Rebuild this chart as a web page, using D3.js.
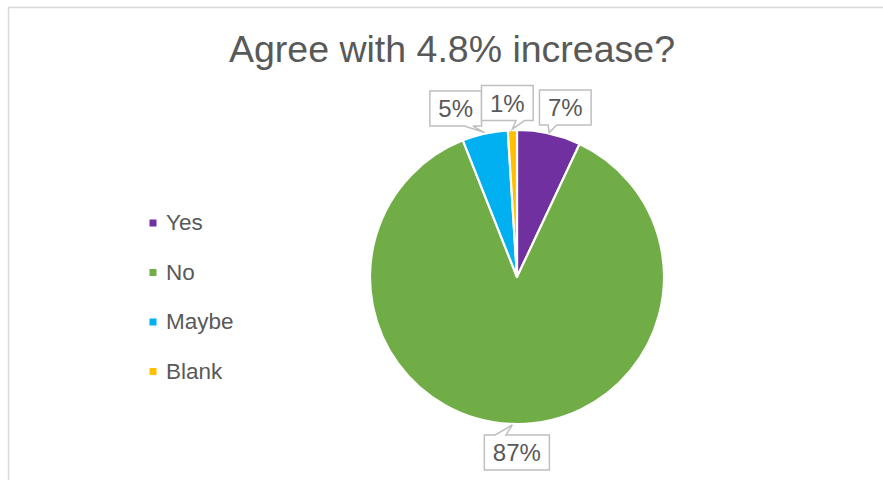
<!DOCTYPE html>
<html>
<head>
<meta charset="utf-8">
<script src="https://cdn.jsdelivr.net/npm/d3@7"></script>
<style>
  html, body { margin: 0; padding: 0; background: #fff; }
  svg { display: block; font-family: "Liberation Sans", Arial, sans-serif; }
</style>
</head>
<body>
<svg id="chart" width="883" height="480"></svg>
<script>
// Survey responses
const categories = ["Yes", "No", "Maybe", "Blank"];
const values = [7, 87, 5, 1];
const colors = ["#7030A0", "#70AD47", "#00B0F0", "#FFC000"];
const title = "Agree with 4.8% increase?";

// Callout box offsets (box centre relative to the slice's outer edge point)
const calloutOffsets = [[16, -25], [4.5, 27.5], [-29, -24], [-5, -26]];

const svg = d3.select("#chart");
const W = 883, H = 480;

// Chart area frame
svg.append("rect")
  .attr("x", 8.5).attr("y", 7.5)
  .attr("width", W + 20).attr("height", H + 20)
  .attr("fill", "#fff").attr("stroke", "#d9d9d9").attr("stroke-width", 1.5);

// Title
svg.append("text")
  .attr("x", 452).attr("y", 62)
  .attr("text-anchor", "middle")
  .attr("font-size", 37.5)
  .attr("fill", "#595959")
  .text(title);

// Pie
const cx = 517, cy = 277, r = 147;
const data = categories.map((c, i) => ({ cat: c, value: values[i], color: colors[i], off: calloutOffsets[i] }));
const pie = d3.pie().value(d => d.value).sort(null);
const arcs = pie(data);
const arc = d3.arc().innerRadius(0).outerRadius(r);

const g = svg.append("g").attr("transform", `translate(${cx},${cy})`);
g.selectAll("path.slice")
  .data(arcs)
  .join("path")
  .attr("class", "slice")
  .attr("d", arc)
  .attr("fill", d => d.data.color)
  .attr("stroke", "#fff")
  .attr("stroke-width", 2.2)
  .attr("stroke-linejoin", "round");

// Callout labels
const fmt = d3.format(".0%");
const total = d3.sum(values);
const fontSize = 24;
const boxH = 35;

function textWidth(str) {
  const t = svg.append("text").attr("font-size", fontSize).text(str);
  const w = t.node().getComputedTextLength();
  t.remove();
  return w;
}

function calloutPath(x0, y0, x1, y1, tx, ty) {
  const w = x1 - x0;
  const mx = (x0 + x1) / 2;
  const a = tx < mx ? x0 + w * 2 / 12 : x0 + w * 8 / 12;
  const b = tx < mx ? x0 + w * 4 / 12 : x0 + w * 10 / 12;
  if (ty > y1) {
    // wedge on bottom edge
    return `M${x0},${y0}H${x1}V${y1}H${b}L${tx},${ty}L${a},${y1}H${x0}Z`;
  }
  // wedge on top edge
  return `M${x0},${y0}H${a}L${tx},${ty}L${b},${y0}H${x1}V${y1}H${x0}Z`;
}

const labels = svg.append("g");
arcs.forEach(d => {
  const mid = (d.startAngle + d.endAngle) / 2;
  const tx = cx + (r + 1) * Math.sin(mid);
  const ty = cy - (r + 1) * Math.cos(mid);
  const label = fmt(d.data.value / total);
  const bw = textWidth(label) + 17;
  const bcx = tx + d.data.off[0], bcy = ty + d.data.off[1];
  const x0 = bcx - bw / 2, x1 = bcx + bw / 2;
  const y0 = bcy - boxH / 2, y1 = bcy + boxH / 2;
  labels.append("path")
    .attr("d", calloutPath(x0, y0, x1, y1, tx, ty))
    .attr("fill", "#fff")
    .attr("stroke", "#bfbfbf")
    .attr("stroke-width", 1.5);
  labels.append("text")
    .attr("x", bcx).attr("y", bcy + fontSize * 0.36)
    .attr("text-anchor", "middle")
    .attr("font-size", fontSize)
    .attr("fill", "#595959")
    .text(label);
});

// Legend
const legend = svg.append("g");
const ly = d3.scalePoint().domain(categories).range([223, 371.5]);
categories.forEach((c, i) => {
  legend.append("rect")
    .attr("x", 149.5).attr("y", ly(c) - 3.5)
    .attr("width", 7).attr("height", 7)
    .attr("fill", colors[i]);
  legend.append("text")
    .attr("x", 166).attr("y", ly(c) + 7)
    .attr("font-size", 22.5)
    .attr("fill", "#595959")
    .text(c);
});
</script>
</body>
</html>
